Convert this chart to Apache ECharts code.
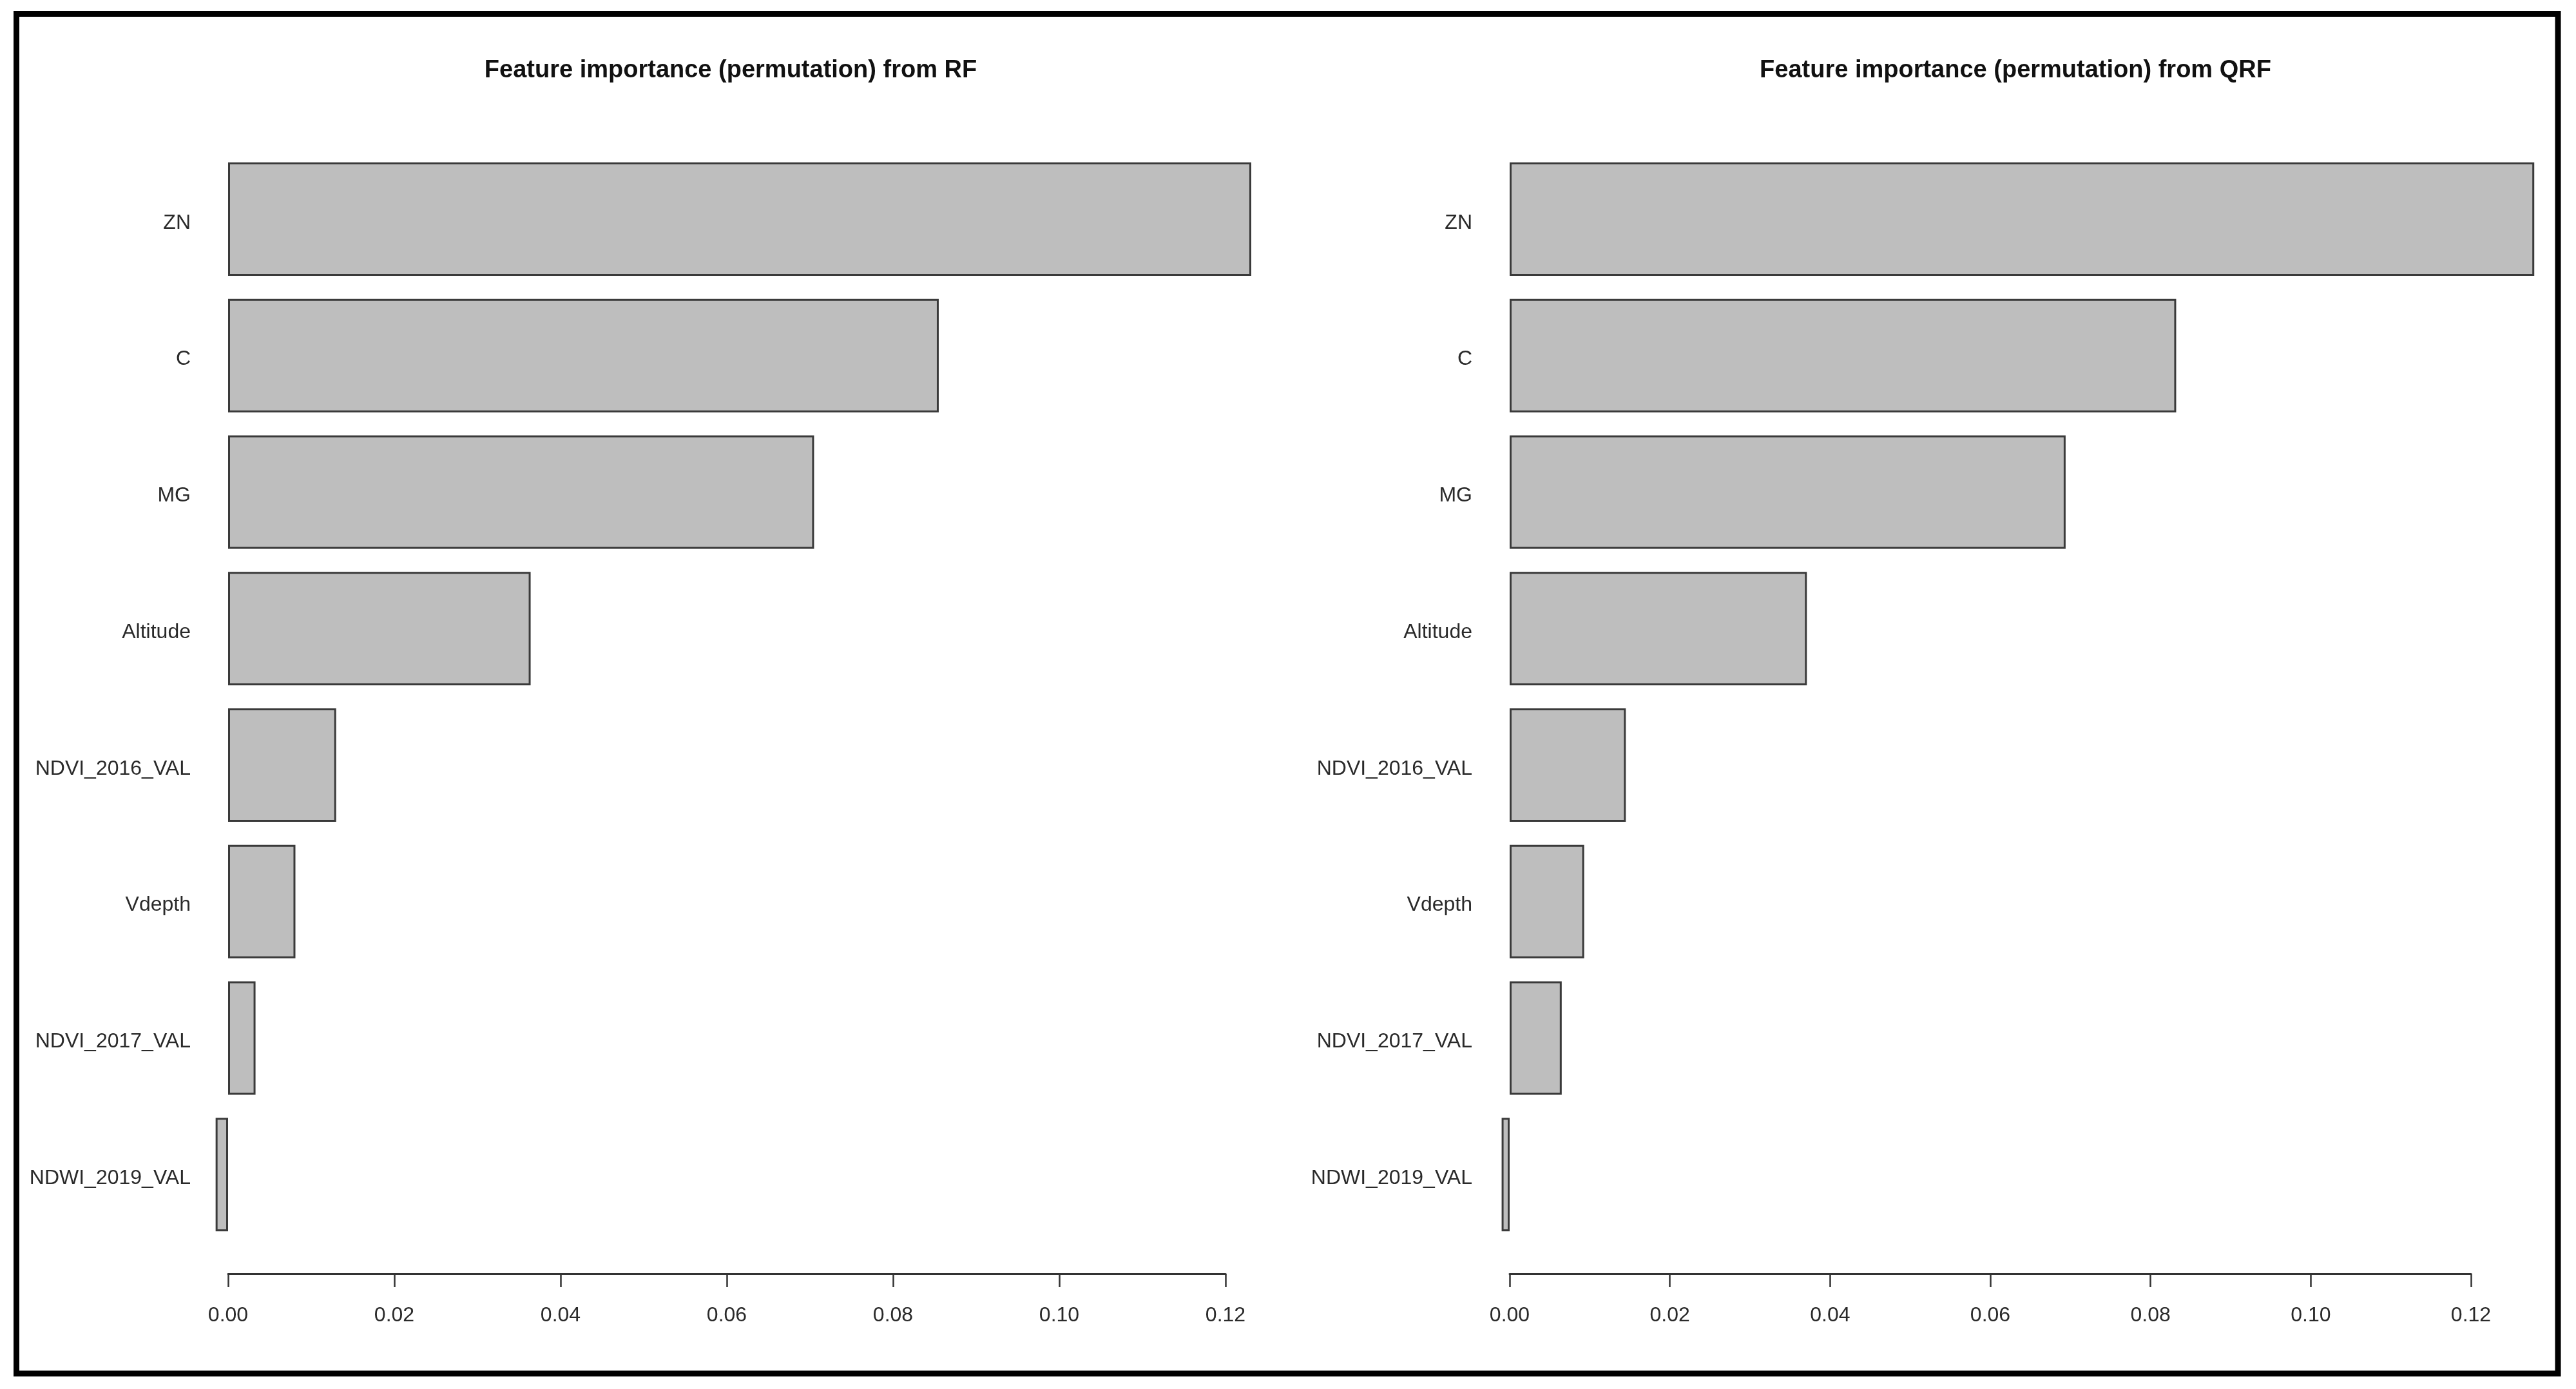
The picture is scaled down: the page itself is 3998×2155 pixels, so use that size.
<!DOCTYPE html>
<html>
<head>
<meta charset="utf-8">
<script src="https://cdn.jsdelivr.net/npm/echarts@6/dist/echarts.min.js"></script>
<style>
html,body{margin:0;padding:0;background:#fff;}
#chart{width:3998px;height:2155px;}
</style>
</head>
<body>
<div id="chart"></div>
<script>
const categories = ['ZN', 'C', 'MG', 'Altitude', 'NDVI_2016_VAL', 'Vdepth', 'NDVI_2017_VAL', 'NDWI_2019_VAL'];
const rfValues  = [0.1231, 0.0855, 0.0705, 0.0364, 0.0130, 0.0081, 0.0033, -0.0015];
const qrfValues = [0.1279, 0.0832, 0.0694, 0.0371, 0.0145, 0.0093, 0.0065, -0.0010];
const tickMin = 0, tickMax = 0.12, tickStep = 0.02;
const titles = ['Feature importance (permutation) from RF', 'Feature importance (permutation) from QRF'];

const FONT = 'Liberation Sans, Arial, Helvetica, sans-serif';
const chart = echarts.init(document.getElementById('chart'), null, {renderer: 'canvas'});

const grids = [
  {left: 354, right: 2096, top: 234, bottom: 227},
  {left: 2343, right: 163, top: 234, bottom: 227}
];

function xAxisFor(i) {
  return {
    type: 'value', gridIndex: i, min: tickMin, max: tickMax, interval: tickStep,
    position: 'bottom', offset: 48,
    axisLine: {show: true, lineStyle: {color: '#333', width: 3}},
    axisTick: {show: true, length: 21, lineStyle: {color: '#333', width: 2.5}},
    axisLabel: {show: true, fontSize: 32, fontFamily: FONT, color: '#2a2a2a', margin: 49,
      formatter: v => v.toFixed(2)},
    splitLine: {show: false}
  };
}
function yAxisFor(i) {
  return {
    type: 'category', gridIndex: i, data: categories, inverse: true,
    axisLine: {show: false}, axisTick: {show: false}, splitLine: {show: false},
    axisLabel: {show: true, fontSize: 32, fontFamily: FONT, color: '#2a2a2a', margin: 58,
      verticalAlign: 'top', lineHeight: 12}
  };
}
function seriesFor(i, data) {
  return {
    type: 'bar', xAxisIndex: i, yAxisIndex: i, data: data, barWidth: 176, clip: false,
    itemStyle: {color: '#bebebe', borderColor: '#3a3a3a', borderWidth: 3},
    emphasis: {disabled: true}, animation: false
  };
}

chart.setOption({
  backgroundColor: '#ffffff',
  animation: false,
  grid: grids,
  xAxis: [xAxisFor(0), xAxisFor(1)],
  yAxis: [yAxisFor(0), yAxisFor(1)],
  series: [seriesFor(0, rfValues), seriesFor(1, qrfValues)],
  graphic: [
    {type: 'rect', shape: {x: 25.5, y: 21.5, width: 3944.5, height: 2109.5},
     style: {fill: 'none', stroke: '#000', lineWidth: 9}, z: 10},
    {type: 'text', x: 1134, y: 110,
     style: {text: titles[0], font: 'bold 38px ' + FONT, fill: '#111', textAlign: 'center', textVerticalAlign: 'middle'}},
    {type: 'text', x: 3128, y: 110,
     style: {text: titles[1], font: 'bold 38px ' + FONT, fill: '#111', textAlign: 'center', textVerticalAlign: 'middle'}}
  ]
});
</script>
</body>
</html>
